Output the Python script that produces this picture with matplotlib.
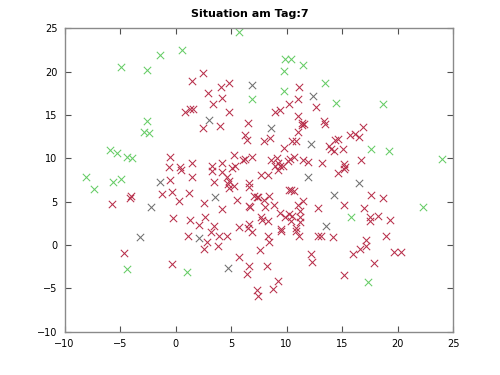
import matplotlib
matplotlib.use("Agg")
from matplotlib import pyplot as plt

# state on day 7: red = infected, green = healthy, gray = unsure (check colours)
red_x = [2.5, 1.5, 2.9, 4.1, 4.8, 4.2, 3.4, 4.8, 0.9, 1.3, 1.6, 2.5, 4.0, 6.5, 11.1, 11.0, 10.2, 12.7,
         9.0, 9.4, 11.0, 11.4, 11.6, 11.4, 13.4, 13.5, 16.9, -4.0, -4.1, -5.7, 6.3, 6.4, -0.5, 1.5,
         -0.6, 0.4, 0.5, 3.3, 3.3, 4.2, 5.3, 6.1, 6.3, 6.9, 5.1, 5.4, 4.2, 1.5, -0.5, 3.5, 4.6, 4.8,
         4.7, 4.8, 5.3, 6.6, 6.6, -1.2, -0.3, 1.2, 7.1, 7.3, 0.3, 2.6, 5.5, 4.2, 6.6, 6.7, -0.2, 1.3,
         2.7, 2.1, 3.5, 5.7, 6.6, 6.5, 11.0, 8.0, 8.5, 10.5, 10.9, 9.8, 13.8, 14.0, 14.3, 14.6, 14.4,
         15.7, 16.2, 16.5, 15.1, 8.6, 9.1, 9.2, 10.1, 10.3, 10.7, 11.5, 11.9, 13.2, 9.0, 9.4, 9.7,
         9.2, 7.7, 8.3, 14.6, 15.2, 15.3, 15.2, 10.2, 10.4, 10.7, 7.4, 8.4, 8.0, 8.1, 8.9, 11.5, 11.0,
         12.8, 11.2, 15.2, 9.4, 10.2, 10.5, 9.9, 7.7, 7.8, 8.3, 11.2, 11.2, 10.4, 9.5, 10.9, 16.7,
         17.6, 18.7, 17.0, 17.5, 17.5, 18.2, 19.3, -4.6, 1.1, 3.2, 2.8, 2.6, 3.9, 4.6, 3.8, 6.9, 5.7,
         6.6, 6.4, -0.3, 7.3, 7.4, 7.6, 9.5, 10.9, 11.1, 8.3, 8.4, 12.8, 13.1, 14.2, 12.2, 12.3, 16.0,
         8.2, 15.2, 9.2, 8.8, 19.0, 17.2, 17.2, 16.6, 19.7, 20.3, 17.9]
red_y = [19.8, 18.9, 17.5, 18.2, 18.7, 16.9, 16.2, 15.3, 15.3, 15.7, 15.7, 13.5, 13.7, 14.1, 18.2,
         16.8, 16.3, 15.9, 15.3, 15.6, 14.9, 14.1, 14.0, 13.8, 14.3, 13.9, 13.6, 5.6, 5.4, 4.7, 12.7,
         12.1, 10.1, 9.5, 9.0, 9.0, 8.6, 9.1, 8.5, 9.5, 10.4, 9.8, 9.9, 10.1, 8.9, 9.1, 8.4, 7.8, 7.5,
         7.3, 7.8, 7.4, 7.0, 6.6, 6.8, 7.1, 6.7, 5.9, 6.1, 6.0, 5.7, 5.5, 5.1, 4.8, 5.2, 4.2, 4.5, 4.4,
         3.1, 2.9, 3.2, 2.3, 2.2, 2.1, 2.4, 2.0, 13.0, 12.0, 12.3, 12.0, 12.0, 11.2, 11.4, 11.1, 10.8,
         12.2, 12.1, 12.7, 12.8, 12.5, 11.1, 9.8, 10.0, 9.5, 9.7, 9.9, 10.1, 9.8, 9.6, 9.5, 9.1, 9.1,
         9.1, 8.7, 8.1, 8.1, 8.3, 9.4, 9.0, 8.8, 6.3, 6.4, 6.2, 5.5, 5.6, 5.2, 4.4, 4.6, 5.1, 4.6,
         4.3, 3.9, 4.6, 3.7, 3.6, 3.4, 3.2, 3.2, 2.9, 2.8, 3.2, 2.7, 2.8, 1.8, 2.0, 9.8, 5.8, 5.4,
         4.3, 3.2, 2.8, 3.3, 2.9, -0.9, 1.1, 1.5, 0.3, -0.4, 1.1, 1.0, -0.1, 1.5, -1.4, -2.4, -3.3,
         -2.2, -5.2, -5.9, -0.6, 1.6, 1.6, 1.1, 1.0, 0.4, 1.0, 1.0, 0.9, -1.0, -1.9, -1.0, -2.4, -3.5,
         -4.1, -5.1, 1.1, 0.6, -0.1, -0.4, -0.8, -0.8, -2.1]

green_x = [-1.4, -4.9, -2.6, -2.6, -2.8, -2.4, 5.7, 0.6, 6.9, 9.9, 10.4, 11.5, 9.8, 13.5, 9.8, 14.5,
           -5.9, -5.3, -4.4, -3.9, -8.1, -7.3, -5.6, -4.9, 15.8, 17.6, 19.2, 24.0, -4.4, 1.0, 17.3,
           18.7, 22.3]
green_y = [21.9, 20.5, 20.2, 14.3, 13.0, 12.9, 24.6, 22.5, 16.8, 21.4, 21.4, 20.8, 20.1, 18.7, 17.8,
           16.4, 11.0, 10.6, 10.1, 10.0, 7.9, 6.5, 7.3, 7.6, 3.2, 11.1, 10.8, 9.9, -2.7, -3.1, -4.3,
           16.2, 4.4]

gray_x = [6.9, 12.4, 3.0, 8.6, 12.2, 11.9, -1.4, 3.6, 14.3, 13.6, -2.2, -3.2, 2.1, 4.7, 16.5]
gray_y = [18.4, 17.2, 14.4, 13.5, 11.7, 7.8, 7.3, 5.5, 5.8, 2.2, 4.4, 0.9, 0.8, -2.6, 7.1]

ticks = [-10, -5, 0, 5, 10, 15, 20, 25]

fig = plt.figure(figsize=(5, 3.75), dpi=100)
ax = fig.add_axes([0.129, 0.115, 0.777, 0.81])

marker_style = dict(marker="x", s=28, linewidths=0.75)
ax.scatter(green_x, green_y, color="#66cc66", **marker_style)
ax.scatter(gray_x, gray_y, color="#707070", **marker_style)
ax.scatter(red_x, red_y, color="#b8304c", **marker_style)

ax.set_xlim(-10, 25)
ax.set_ylim(-10, 25)
ax.set_xticks(ticks)
ax.set_yticks(ticks)
ax.tick_params(direction="in", length=4, width=0.8, top=True, right=True, labelsize=7,
               color="#505050", pad=5)
for spine in ax.spines.values():
    spine.set_color("#8a8a8a")
    spine.set_linewidth(1.0)

fig.text(0.5, 0.962, "Situation am Tag:7", ha="center", va="center", fontsize=8, fontweight="bold")

fig.savefig("out.png", dpi=100)
